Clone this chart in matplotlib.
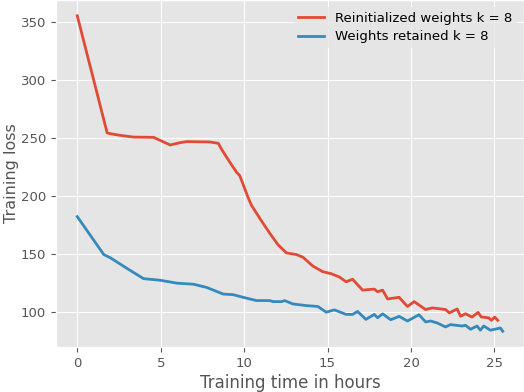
import matplotlib
matplotlib.use('Agg')
import matplotlib.pyplot as plt
import numpy as np

plt.style.use('ggplot')

# reinitialized weights, k = 8
reinit_hours = [0.0, 1.79, 1.99, 2.58, 3.38, 4.57, 5.57, 6.16, 6.56, 7.95, 8.45,
                8.65, 9.15, 9.55, 9.74, 10.04, 10.24, 10.44, 10.94, 11.53, 12.03,
                12.53, 13.13, 13.52, 14.12, 14.71, 15.21, 15.71, 16.11, 16.5, 17.1,
                17.8, 18.0, 18.3, 18.6, 19.29, 19.79, 20.19, 20.88, 21.28, 22.07,
                22.3, 22.77, 22.97, 23.27, 23.66, 24.02, 24.22, 24.66, 24.82, 25.02,
                25.2]
reinit_loss = [355, 254.2, 253.4, 252, 250.5, 250.3, 243.7, 245.7, 246.6, 246.3, 245.2,
               240, 228.7, 220.2, 217.3, 206, 198.4, 191.8, 180.5, 167.8, 157.8,
               150.8, 149.3, 147.1, 139.4, 134.6, 132.9, 130.0, 125.9, 128.1, 118.7,
               119.6, 117.3, 118.7, 111.1, 112.5, 104.6, 108.8, 102.0, 103.4, 102,
               99.1, 102.5, 96.2, 98.3, 95.5, 99.5, 95.5, 94.9, 92.7, 95.5,
               92.7]

# weights retained, k = 8
retain_hours = [0.0, 1.59, 1.99, 2.98, 3.97, 4.97, 5.97, 6.96, 7.76, 8.75, 9.34,
                9.94, 10.74, 11.53, 11.73, 12.23, 12.43, 12.92, 13.72, 14.42, 14.92,
                15.41, 16.11, 16.5, 16.8, 17.3, 17.8, 18.0, 18.3, 18.79, 19.29,
                19.79, 20.48, 20.88, 21.18, 21.58, 22.07, 22.37, 23.07, 23.27, 23.57,
                23.96, 24.16, 24.36, 24.76, 25.36, 25.5]
retain_loss = [182, 149.3, 146.5, 137.4, 128.6, 127.2, 124.7, 123.8, 121, 115.3, 114.8,
               112.5, 109.7, 109.7, 108.8, 108.8, 109.7, 106.8, 105.4, 104.6, 99.7,
               101.7, 97.8, 97.8, 100.3, 93.5, 97.8, 94.9, 98.3, 93.2, 96.1,
               92.1, 97.5, 91.3, 92.1, 90.4, 87.0, 89.0, 87.8, 88.4, 85.0,
               87.8, 84.2, 87.8, 84.2, 86.1, 83.3]

fig = plt.figure(figsize=(5.24, 3.92), dpi=100)
ax = fig.add_axes([56 / 524, 45 / 392, 468 / 524, 347 / 392])

ax.plot(reinit_hours, reinit_loss, color='#E24A33', linewidth=2,
        label='Reinitialized weights k = 8')
ax.plot(retain_hours, retain_loss, color='#348ABD', linewidth=2,
        label='Weights retained k = 8')

ax.set_xticks([0, 5, 10, 15, 20, 25])
ax.set_yticks([100, 150, 200, 250, 300, 350])
ax.tick_params(labelsize=9.5)
ax.set_xlabel('Training time in hours', fontsize=12, labelpad=3)
ax.set_ylabel('Training loss', fontsize=11.5)
ax.yaxis.set_label_coords(-0.078, 0.5)

leg = ax.legend(loc='upper right', frameon=True, labelspacing=0.4,
                prop={'size': 9.5})
for t in leg.get_texts():
    t.set_color('black')
leg.get_frame().set_facecolor('#E5E5E5')
leg.get_frame().set_edgecolor('none')
leg.get_frame().set_alpha(0.8)

fig.savefig('out.png', dpi=100)
